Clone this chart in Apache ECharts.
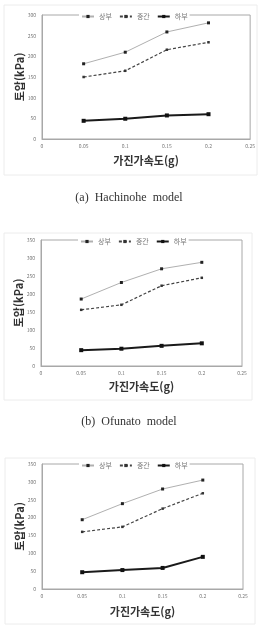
<!DOCTYPE html>
<html lang="ko">

<head>
	<meta charset="UTF-8">
	<script src="https://cdn.jsdelivr.net/npm/echarts@6/dist/echarts.min.js"></script>
	<title>토압 - 가진가속도</title>
	<style>
		html, body { margin: 0; padding: 0; background: #fff; }
	</style>
</head>

<body>
	<div id="main" style="width: 258px;height:632px;"></div>

	<script>
		// 가진가속도 (g)
		var accel = [0.05, 0.1, 0.15, 0.2];
		var xTicks = ['0', '0.05', '0.1', '0.15', '0.2', '0.25'];
		var seriesNames = ['상부', '중간', '하부'];

		// (a) Hachinohe
		var hachUpper = [182, 210, 259, 281];
		var hachMiddle = [150, 165, 216, 234];
		var hachLower = [44, 49, 57, 60];

		// (b) Ofunato
		var ofuUpper = [186, 232, 270, 288];
		var ofuMiddle = [156, 170, 223, 245];
		var ofuLower = [44, 48, 56, 63];

		// (c)
		var thirdUpper = [194, 239, 280, 305];
		var thirdMiddle = [160, 174, 225, 268];
		var thirdLower = [47, 53, 59, 90];

		var yMax = [300, 350, 350];
		var captions = ['(a)  Hachinohe  model', '(b)  Ofunato  model'];

		// 그래프 위치
		var grids = [
			{ left: 42, top: 15, width: 210, height: 124 },
			{ left: 41, top: 240, width: 201, height: 126 },
			{ left: 42, top: 464, width: 201, height: 125 }
		];
		var panels = [
			{ x: 4, y: 5, width: 253, height: 170 },
			{ x: 4, y: 233, width: 248, height: 167 },
			{ x: 5, y: 458, width: 250, height: 166 }
		];
		var xNameGap = [16, 15, 17];

		function pairs(values) {
			return values.map(function (v, i) { return [accel[i], v]; });
		}

		var groups = [
			[hachUpper, hachMiddle, hachLower],
			[ofuUpper, ofuMiddle, ofuLower],
			[thirdUpper, thirdMiddle, thirdLower]
		];

		var styles = [
			{ line: { color: '#b0b0b0', width: 1, type: 'solid' }, item: '#222', size: 3 },
			{ line: { color: '#444', width: 1.2, type: [3, 2] }, item: '#333', size: 2.5 },
			{ line: { color: '#1a1a1a', width: 2, type: 'solid' }, item: '#111', size: 4 }
		];

		var option = {
			backgroundColor: '#fff',
			animation: false,
			textStyle: { fontFamily: 'Noto Sans CJK KR' },
			grid: [],
			xAxis: [],
			yAxis: [],
			legend: [],
			series: [],
			graphic: [],
			title: []
		};

		grids.forEach(function (g, gi) {
			option.grid.push({
				left: g.left, top: g.top, width: g.width, height: g.height,
				show: true, borderColor: '#a8a8a8', borderWidth: 1, backgroundColor: 'transparent'
			});
			option.xAxis.push({
				type: 'value', gridIndex: gi, min: 0, max: 0.25, interval: 0.05,
				name: '가진가속도(g)', nameLocation: 'middle', nameGap: xNameGap[gi],
				nameMoveOverlap: false,
				nameTextStyle: { fontSize: 11, fontWeight: 'bold', color: '#333' },
				axisLine: { show: true, lineStyle: { color: '#a8a8a8' } },
				axisTick: { show: false },
				splitLine: { show: false },
				axisLabel: {
					fontSize: 5, color: '#777', margin: 5,
					formatter: function (v) { return xTicks[Math.round(v / 0.05)]; }
				}
			});
			option.yAxis.push({
				type: 'value', gridIndex: gi, min: 0, max: yMax[gi], interval: 50,
				name: '토압(kPa)', nameLocation: 'middle', nameGap: 17,
				nameMoveOverlap: false,
				nameTextStyle: { fontSize: 11, fontWeight: 'bold', color: '#333' },
				axisLine: { show: true, lineStyle: { color: '#a8a8a8' } },
				axisTick: { show: false },
				splitLine: { show: false },
				axisLabel: { fontSize: 5, color: '#777', margin: 6 }
			});
			option.legend.push({
				data: seriesNames,
				left: g.left + 37, top: g.top - 3,
				itemWidth: 12, itemHeight: 4, itemGap: 7,
				textStyle: { fontSize: 7, color: '#777' },
				backgroundColor: '#fff', padding: [1, 2]
			});
			groups[gi].forEach(function (vals, si) {
				var s = styles[si];
				option.series.push({
					name: seriesNames[si], type: 'line',
					xAxisIndex: gi, yAxisIndex: gi,
					data: pairs(vals),
					symbol: 'rect', symbolSize: s.size,
					lineStyle: s.line,
					itemStyle: { color: s.item }
				});
			});
			var p = panels[gi];
			option.graphic.push({
				type: 'rect', z: -1,
				shape: { x: p.x, y: p.y, width: p.width, height: p.height },
				style: { fill: '#fff', stroke: '#ececec', lineWidth: 1 }
			});
		});

		// 캡션
		option.title = [
			{ text: captions[0], left: 'center', top: 187, textStyle: { fontFamily: 'Liberation Serif', fontSize: 12, fontWeight: 'normal', color: '#333' } },
			{ text: captions[1], left: 'center', top: 411, textStyle: { fontFamily: 'Liberation Serif', fontSize: 12, fontWeight: 'normal', color: '#333' } }
		];

		var chart = echarts.init(document.getElementById('main'));
		chart.setOption(option);
	</script>
</body>

</html>
